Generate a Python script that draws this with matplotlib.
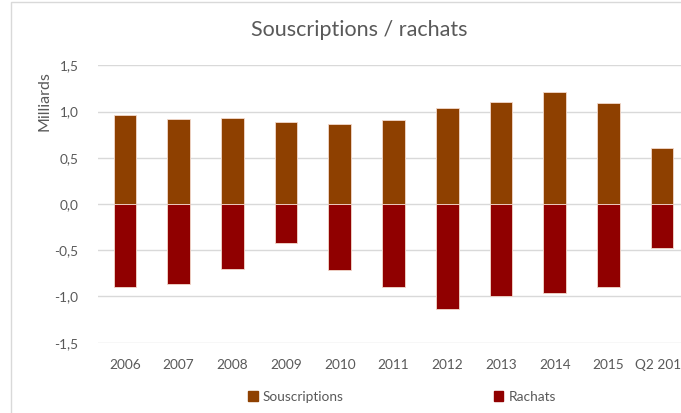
import numpy as np
import matplotlib.pyplot as plt
from matplotlib.ticker import FuncFormatter
from matplotlib.patches import Rectangle, Patch

# Données (en milliards)
annees = ['2006', '2007', '2008', '2009', '2010', '2011', '2012', '2013', '2014', '2015', 'Q2 2016']
souscriptions = [0.96, 0.92, 0.93, 0.89, 0.87, 0.91, 1.04, 1.10, 1.21, 1.09, 0.61]
rachats = [-0.90, -0.86, -0.70, -0.42, -0.71, -0.90, -1.14, -0.99, -0.96, -0.90, -0.48]

couleur_sousc = '#8E4000'
couleur_rach = '#900000'
gris_texte = '#595959'

plt.rcParams['font.family'] = ['Lato', 'DejaVu Sans']

fig = plt.figure(figsize=(6.81, 4.13), dpi=100)
ax = fig.add_axes([98 / 681, 70.3 / 413, 591 / 681, 277.4 / 413])

x = np.arange(len(annees))
ax.bar(x, souscriptions, width=0.42, color=couleur_sousc, edgecolor='#f3d9cc', linewidth=0.6, zorder=3)
ax.bar(x, rachats, width=0.42, color=couleur_rach, edgecolor='#f3d9cc', linewidth=0.6, zorder=3)

ax.set_xlim(-0.5, len(annees) - 0.5)
ax.set_ylim(-1.5, 1.5)
ax.set_yticks(np.arange(-1.5, 1.51, 0.5))
ax.yaxis.set_major_formatter(FuncFormatter(lambda v, p: f'{v:.1f}'.replace('.', ',')))
ax.set_xticks(x)
ax.set_xticklabels(annees)
ax.grid(axis='y', color='#d9d9d9', linewidth=1, zorder=0)
for s in ax.spines.values():
    s.set_visible(False)
ax.tick_params(axis='both', length=0, labelsize=9.8, labelcolor=gris_texte)
ax.tick_params(axis='x', pad=12)
ax.tick_params(axis='y', pad=14)

fig.text(359 / 681, 1 - 30 / 413, 'Souscriptions / rachats', ha='center', va='center',
         fontsize=15.5, color=gris_texte)
fig.text(45 / 681, 1 - 101 / 413, 'Milliards', rotation=90, ha='center', va='center',
         fontsize=11.5, color=gris_texte)

handles = [Patch(color=couleur_sousc), Patch(color=couleur_rach)]
fig.legend(handles, ['Souscriptions', 'Rachats'], loc='center', ncol=2,
           bbox_to_anchor=(402 / 681, 1 - 397 / 413), frameon=False, fontsize=9.8,
           handlelength=0.7, handleheight=0.7, handletextpad=0.4, columnspacing=11,
           labelcolor=gris_texte)

# cadre du graphique
fig.patches.append(Rectangle((11 / 681, -0.1), 1.2, 1 - 2 / 413 + 0.1, transform=fig.transFigure,
                             fill=False, edgecolor='#d9d9d9', linewidth=1))

fig.savefig('out.png', dpi=100)
